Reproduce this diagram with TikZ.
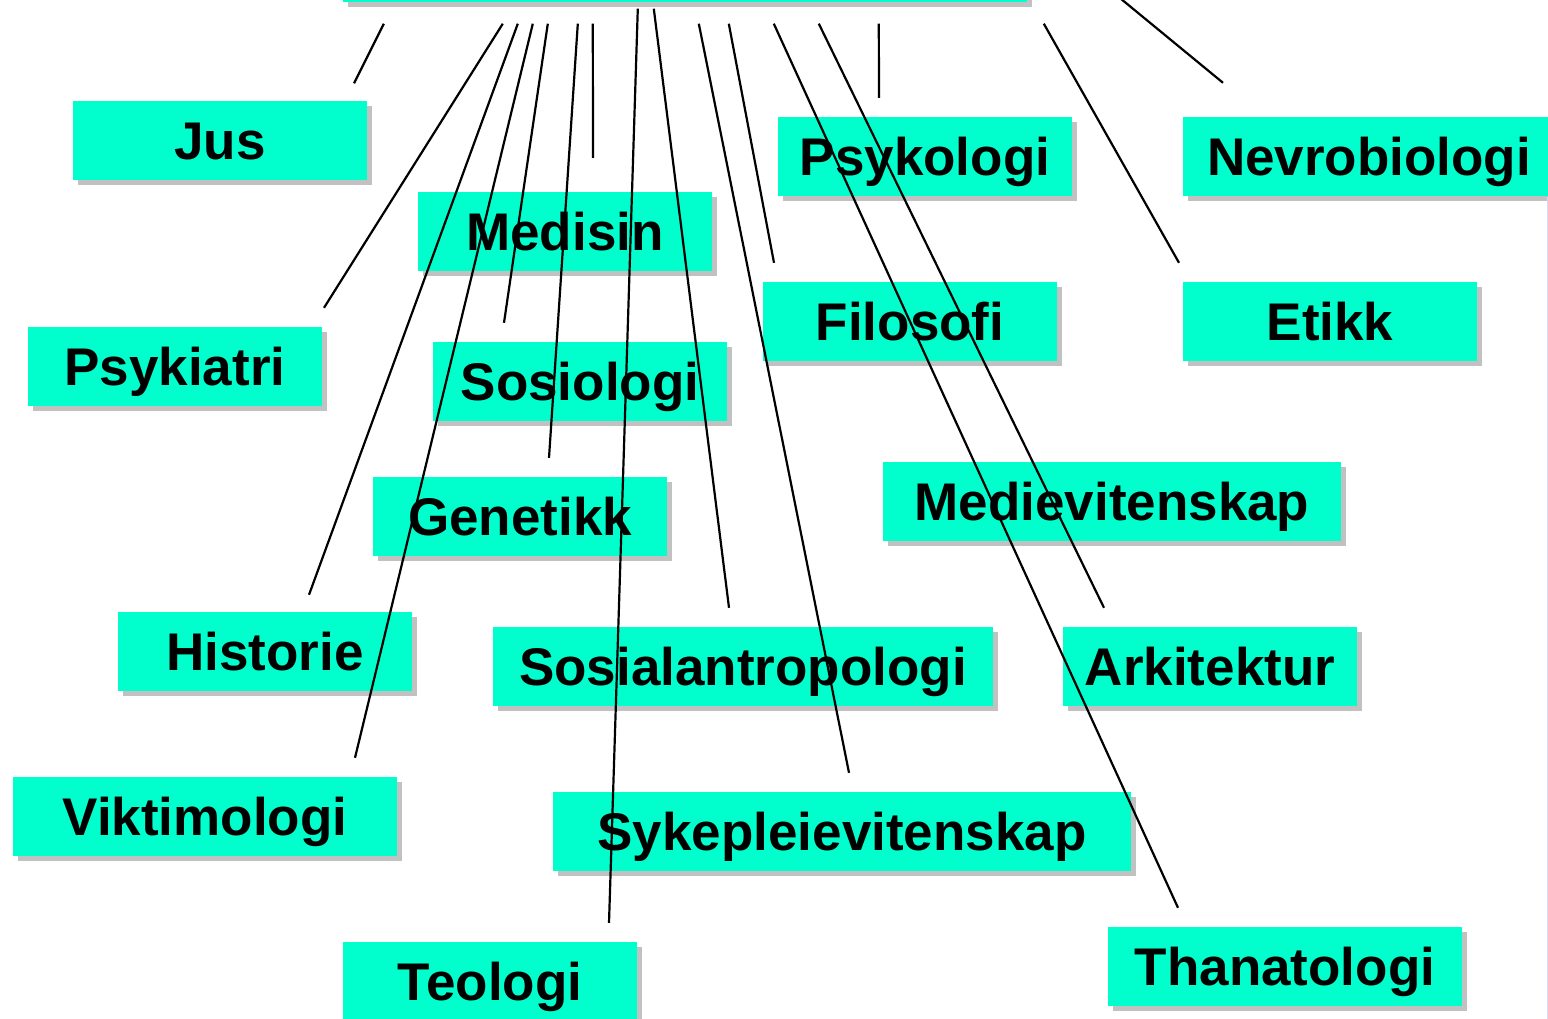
\documentclass[tikz,border=0pt]{standalone}
\usepackage{fontspec}
\setmainfont{Liberation Sans}
\usetikzlibrary{calc, shadows}

\definecolor{turkis}{RGB}{0,255,204}

\begin{document}
\begin{tikzpicture}[
    x=1pt, y=-1pt,
    fagboks/.style={
        rectangle,
        fill=turkis,
        minimum width=294pt,
        minimum height=79pt,
        inner sep=0pt,
        text height=38pt,
        text depth=0pt,
        drop shadow={shadow xshift=5pt, shadow yshift=-5pt, fill=black!35, opacity=0.7},
        font=\bfseries\fontsize{53}{60}\selectfont
    },
    strek/.style={
        draw=black,
        line width=2.2pt
    }
]
    \useasboundingbox (0,0) rectangle (1548,1019);

    % Top box (cut off by the page)
    \node[fagboks, minimum width=684pt] (topp) at (685,-37) {};

    % Subject boxes
    \node[fagboks] (jus) at (220,141) {Jus};
    \node[fagboks] (medisin) at (565,231.5) {Medisin};
    \node[fagboks] (psykologi) at (925,156.5) {Psykologi};
    \node[fagboks, minimum width=372pt] (nevrobiologi) at (1369,156.5) {Nevrobiologi};
    \node[fagboks] (psykiatri) at (175,366.5) {Psykiatri};
    \node[fagboks] (sosiologi) at (580,381.5) {Sosiologi};
    \node[fagboks] (filosofi) at (910,321.5) {Filosofi};
    \node[fagboks] (etikk) at (1330,321.5) {Etikk};
    \node[fagboks] (genetikk) at (520,516.5) {Genetikk};
    \node[fagboks, minimum width=458pt] (medievitenskap) at (1112,501.5) {Medievitenskap};
    \node[fagboks] (historie) at (265,651.5) {Historie};
    \node[fagboks, minimum width=500pt] (sosialantropologi) at (743,666.5) {Sosialantropologi};
    \node[fagboks] (arkitektur) at (1210,666.5) {Arkitektur};
    \node[fagboks, minimum width=384pt] (viktimologi) at (205,816.5) {Viktimologi};
    \node[fagboks, minimum width=578pt] (sykepleievitenskap) at (842,831.5) {Sykepleievitenskap};
    \node[fagboks] (teologi) at (490,981.5) {Teologi};
    \node[fagboks, minimum width=354pt] (thanatologi) at (1285,966.5) {Thanatologi};

    % Lines from the top box
    \draw[strek] ($(topp.south west)+(41,21)$) -- ($(jus.north)+(134,-18)$);
    \draw[strek] ($(topp.south west)+(160,21)$) -- ($(psykiatri.north)+(149,-19)$);
    \draw[strek] ($(topp.south west)+(175,21)$) -- ($(historie.north)+(44,-17)$);
    \draw[strek] ($(topp.south west)+(190,21)$) -- ($(viktimologi.north)+(150,-19)$);
    \draw[strek] ($(topp.south west)+(205,21)$) -- ($(sosiologi.north)+(-76,-19)$);
    \draw[strek] ($(topp.south west)+(235,21)$) -- ($(genetikk.north)+(29,-19)$);
    \draw[strek] ($(topp.south west)+(250,21)$) -- ($(medisin.north)+(28,-34)$);
    \draw[strek] ($(topp.south west)+(295,6)$) -- ($(teologi.north)+(119,-19)$);
    \draw[strek] ($(topp.south west)+(311,6)$) -- ($(sosialantropologi.north)+(-14,-19)$);
    \draw[strek] ($(topp.south west)+(356,21)$) -- ($(sykepleievitenskap.north)+(7,-19)$);
    \draw[strek] ($(topp.south west)+(386,21)$) -- ($(filosofi.north)+(-136,-19)$);
    \draw[strek] ($(topp.south west)+(431,21)$) -- ($(thanatologi.north)+(-107,-19)$);
    \draw[strek] ($(topp.south west)+(476,21)$) -- ($(arkitektur.north)+(-106,-19)$);
    \draw[strek] ($(topp.south west)+(536,21)$) -- ($(psykologi.north)+(-46,-19)$);
    \draw[strek] ($(topp.south west)+(701,21)$) -- ($(etikk.north)+(-151,-19)$);
    \draw[strek] ($(topp.south west)+(767,-13)$) -- ($(nevrobiologi.north)+(-146,-34)$);

    % Faint edge on the right
    \draw[blue!15, line width=1pt] (1547,197) -- (1547,1019);

\end{tikzpicture}
\end{document}
